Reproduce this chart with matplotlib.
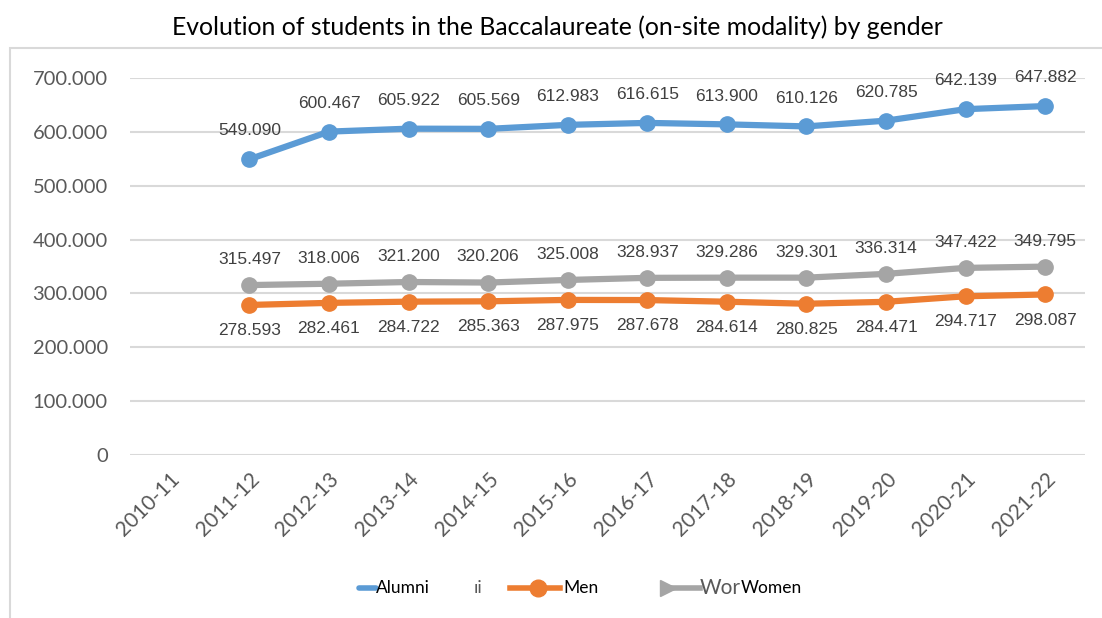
import matplotlib.pyplot as plt
from matplotlib.lines import Line2D
from matplotlib.patches import Rectangle

# categories and series (values in thousands)
years = ['2010-11', '2011-12', '2012-13', '2013-14', '2014-15', '2015-16',
         '2016-17', '2017-18', '2018-19', '2019-20', '2020-21', '2021-22']
alumni = [None, 549.090, 600.467, 605.922, 605.569, 612.983, 616.615,
          613.900, 610.126, 620.785, 642.139, 647.882]
women = [None, 315.497, 318.006, 321.200, 320.206, 325.008, 328.937,
         329.286, 329.301, 336.314, 347.422, 349.795]
men = [None, 278.593, 282.461, 284.722, 285.363, 287.975, 287.678,
       284.614, 280.825, 284.471, 294.717, 298.087]
yticks = [0, 100, 200, 300, 400, 500, 600, 700]
ytick_labels = ['0', '100.000', '200.000', '300.000', '400.000',
                '500.000', '600.000', '700.000']

BLUE = '#5B9BD5'
ORANGE = '#ED7D31'
GRAY = '#A5A5A5'
TXT = '#404040'

W, H = 1102, 618
fig = plt.figure(figsize=(W / 100, H / 100), dpi=100)
ax = fig.add_axes([130 / W, 1 - 455 / H, 955 / W, 377 / H])

# outer chart frame (light gray)
fig.patches.append(Rectangle((10 / W, -0.05), 1.2, 1 - 48 / H + 0.05,
                             transform=fig.transFigure, fill=False,
                             edgecolor='#D9D9D9', linewidth=1.5))

x = list(range(len(years)))
xs = [i for i, v in zip(x, alumni) if v is not None]


def series(vals):
    return [v for v in vals if v is not None]


ax.plot(xs, series(alumni), color=BLUE, lw=4.5, marker='o', ms=11,
        solid_capstyle='round', zorder=3)
ax.plot(xs, series(women), color=GRAY, lw=4.5, marker='o', ms=11,
        solid_capstyle='round', zorder=3)
ax.plot(xs, series(men), color=ORANGE, lw=4.5, marker='o', ms=11,
        solid_capstyle='round', zorder=3)

lbl_font = dict(family='Liberation Sans', fontsize=12.5, color=TXT,
                ha='center')
for i, a, w, m in zip(xs, series(alumni), series(women), series(men)):
    ax.annotate(f'{a:.3f}', (i, a), xytext=(0, 15), textcoords='offset points',
                va='bottom', **lbl_font)
    ax.annotate(f'{w:.3f}', (i, w), xytext=(0, 13), textcoords='offset points',
                va='bottom', **lbl_font)
    ax.annotate(f'{m:.3f}', (i, m), xytext=(0, -13), textcoords='offset points',
                va='top', **lbl_font)

ax.set_xlim(-0.5, len(years) - 0.5)
ax.set_ylim(0, 700)
ax.set_yticks(yticks)
ax.set_yticklabels(ytick_labels)
ax.set_xticks(x)
ax.set_xticklabels(years, rotation=45, ha='right', rotation_mode='anchor')
ax.grid(axis='y', color='#D9D9D9', lw=1.5)
ax.set_axisbelow(True)
for s in ax.spines.values():
    s.set_visible(False)
ax.tick_params(axis='both', length=0, colors='#595959')
ax.tick_params(axis='y', labelsize=14.5, pad=16)
ax.tick_params(axis='x', labelsize=15, pad=10)
for t in ax.get_xticklabels() + ax.get_yticklabels():
    t.set_family('Lato')

fig.text(557 / W, 1 - 27 / H, 'Evolution of students in the Baccalaureate '
         '(on-site modality) by gender', ha='center', va='center',
         fontsize=17.8, family='Lato', color='black')

# legend, drawn by hand to keep the original's odd spacing
ly = 1 - 588 / H
fig.add_artist(Line2D([359 / W, 376 / W], [ly, ly], color=BLUE, lw=4,
                      solid_capstyle='round', transform=fig.transFigure))
fig.add_artist(Line2D([510 / W, 538 / W, 560 / W], [ly, ly, ly], color=ORANGE,
                      lw=4, marker='o', markevery=[1], ms=12,
                      transform=fig.transFigure))
fig.add_artist(Line2D([668 / W, 700 / W], [ly, ly], color=GRAY, lw=4,
                      marker='>', markevery=[0], ms=12,
                      transform=fig.transFigure))
leg_font = dict(family='Lato', fontsize=12.5, color='black', va='center',
                ha='left')
fig.text(376 / W, ly, 'Alumni', **leg_font)
fig.text(563 / W, ly, 'Men', **leg_font)
fig.text(741 / W, ly, 'Women', **leg_font)
fig.text(700 / W, ly, 'Wor', ha='left', va='center', fontsize=15,
         color='#595959', family='Lato')
fig.text(478 / W, ly, 'ıi', ha='center', va='center',
         fontsize=13, color='#595959', family='Lato')

fig.savefig('out.png', dpi=100)
